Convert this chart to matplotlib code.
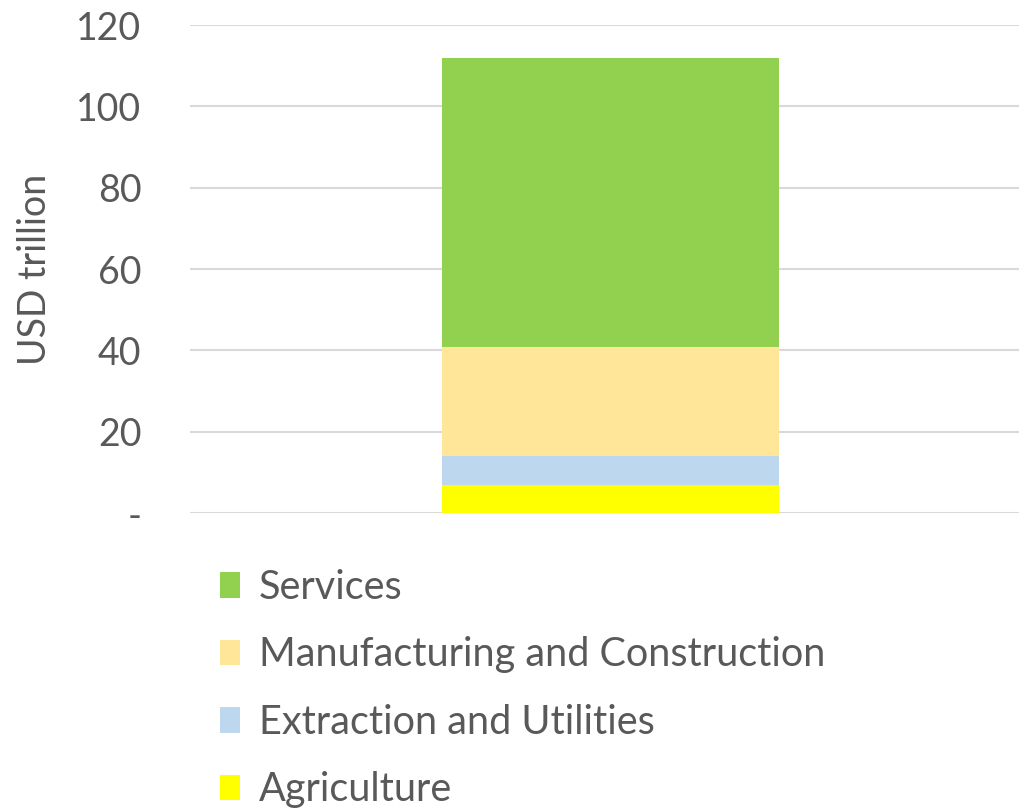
import matplotlib
matplotlib.use("Agg")
import matplotlib.pyplot as plt

categories = ["World"]
sectors = ["Agriculture", "Extraction and Utilities", "Manufacturing and Construction", "Services"]
values = [6.9, 7.1, 26.7, 71.3]
colors = ["#FFFF00", "#BDD7EE", "#FFE699", "#92D050"]
yticks = [0, 20, 40, 60, 80, 100, 120]
ytick_labels = ["-", "20", "40", "60", "80", "100", "120"]

plt.rcParams['font.family'] = ['Lato', 'DejaVu Sans']
txt = "#595959"

W, H = 1019, 809
fig = plt.figure(figsize=(W / 100, H / 100), dpi=100)
ax = fig.add_axes([190 / W, 1 - 513 / H, (1031 - 190) / W, (513 - 25) / H])

bottom = 0
bars = []
for s, v, c in zip(sectors, values, colors):
    b = ax.bar(0, v, width=0.4, bottom=bottom, color=c, label=s, zorder=3)
    bars.append(b)
    bottom += v

ax.set_xlim(-0.5, 0.5)
ax.set_ylim(0, 120)
ax.set_yticks(yticks)
ax.set_yticklabels(ytick_labels)
ax.set_xticks([])
ax.grid(axis="y", color="#D9D9D9", linewidth=1.5, zorder=0)
for sp in ax.spines.values():
    sp.set_visible(False)
ax.tick_params(axis="y", length=0, pad=35, labelsize=27, labelcolor=txt)
ax.set_ylabel("USD trillion", fontsize=27, color=txt, labelpad=17)

leg = fig.legend(handles=bars[::-1], labels=sectors[::-1],
                 loc="upper left", bbox_to_anchor=(220 / W, 1 - 569 / H),
                 frameon=False, fontsize=28.5, labelcolor=txt,
                 handlelength=0.5, handleheight=0.6, handletextpad=0.48,
                 labelspacing=0.77, borderaxespad=0, borderpad=0)

fig.savefig("out.png", dpi=100)
